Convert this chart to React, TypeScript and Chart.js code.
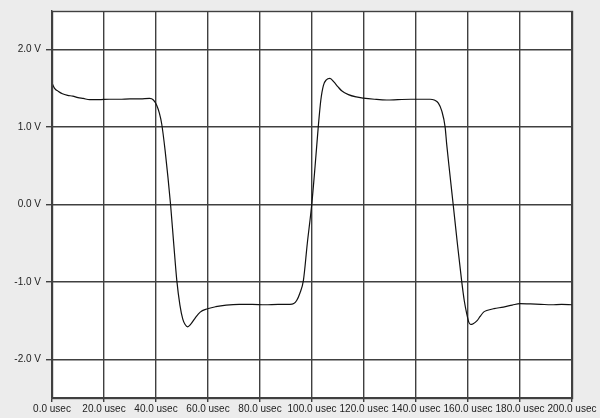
import { useEffect, useRef } from "react";
import { Chart, registerables } from "chart.js";

Chart.register(...registerables);

// time in microseconds, voltage in volts
const timeUs = [
  0, 1, 2.5, 4, 6, 8, 10, 12, 14.5, 18, 22, 26, 30, 34, 37.5, 39, 40.3, 41.3,
  42.2, 43.5, 44.6, 45.6, 46.8, 48, 49.2, 50.3, 51.2, 52.2, 53.3, 55, 57, 59.5,
  63, 67, 72, 77, 82, 87, 91.5, 93, 94.1, 95.3, 96.7, 98.2, 99.9, 101.2, 102.4,
  103.4, 104.4, 105.5, 106.9, 108.5, 110, 111.4, 114, 117, 119.7, 124, 128.7,
  133, 138, 142, 145.4, 147, 148.6, 149.9, 151.2, 151.8, 153, 154.3, 155.9,
  157.6, 158.6, 159.5, 160.3, 161, 162, 163.5, 164.6, 166, 167.2, 170, 173.6,
  177, 180, 184, 188, 192, 196, 200,
];

const volts = [
  1.57, 1.5, 1.46, 1.43, 1.41, 1.4, 1.38, 1.37, 1.355, 1.355, 1.36, 1.36, 1.365,
  1.365, 1.37, 1.35, 1.28, 1.18, 1.04, 0.7, 0.35, 0.0, -0.5, -0.98, -1.3,
  -1.48, -1.55, -1.58, -1.55, -1.47, -1.39, -1.35, -1.32, -1.3, -1.29, -1.29,
  -1.295, -1.29, -1.29, -1.28, -1.24, -1.15, -0.98, -0.5, 0.0, 0.5, 1.0, 1.35,
  1.54, 1.61, 1.63, 1.58, 1.52, 1.47, 1.42, 1.39, 1.375, 1.36, 1.35, 1.355,
  1.36, 1.36, 1.36, 1.35, 1.31, 1.21, 1.0, 0.78, 0.4, 0.0, -0.5, -1.0, -1.25,
  -1.41, -1.52, -1.55, -1.54, -1.5, -1.45, -1.39, -1.37, -1.345, -1.325, -1.3,
  -1.28, -1.285, -1.29, -1.295, -1.29, -1.295,
];

const yTicks = [-2, -1, 0, 1, 2];
const xTicks = [0, 20, 40, 60, 80, 100, 120, 140, 160, 180, 200];

const GRID = "#404040";
const LABEL = "#222222";

export default function App() {
  const canvasRef = useRef<HTMLCanvasElement>(null);

  useEffect(() => {
    if (!canvasRef.current) return;

    const chart = new Chart(canvasRef.current, {
      type: "line",
      data: {
        datasets: [
          {
            data: timeUs.map((t, i) => ({ x: t, y: volts[i] })),
            borderColor: "#111111",
            borderWidth: 1.2,
            pointRadius: 0,
            cubicInterpolationMode: "monotone",
            fill: false,
          },
        ],
      },
      options: {
        animation: false,
        responsive: false,
        devicePixelRatio: 1,
        layout: { padding: { top: 10, right: 28, left: 0, bottom: 0 } },
        plugins: {
          legend: { display: false },
          tooltip: { enabled: false },
        },
        scales: {
          x: {
            type: "linear",
            min: 0,
            max: 200,
            afterBuildTicks: (scale) => {
              scale.ticks = xTicks.map((v) => ({ value: v }));
            },
            afterFit: (scale) => {
              scale.height = 20;
            },
            ticks: {
              color: LABEL,
              font: { family: "Liberation Sans, Arial", size: 10 },
              padding: 1,
              maxRotation: 0,
              autoSkip: false,
              callback: (value) => `${Number(value).toFixed(1)} usec`,
            },
            grid: { color: GRID, lineWidth: 1.4, tickLength: 4 },
            border: { color: GRID, width: 1.4 },
          },
          y: {
            type: "linear",
            min: -2.5,
            max: 2.5,
            afterBuildTicks: (scale) => {
              scale.ticks = yTicks.map((v) => ({ value: v }));
            },
            afterFit: (scale) => {
              scale.width = 52;
            },
            ticks: {
              color: LABEL,
              font: { family: "Liberation Sans, Arial", size: 10 },
              padding: 5,
              callback: (value) => `${Number(value).toFixed(1)} V`,
            },
            grid: { color: GRID, lineWidth: 1.4, tickLength: 6 },
            border: { color: GRID, width: 1.4 },
          },
        },
      },
      plugins: [
        {
          id: "plotBackground",
          beforeDraw: (c) => {
            const { ctx, chartArea } = c;
            ctx.save();
            ctx.fillStyle = "#ececec";
            ctx.fillRect(0, 0, c.width, c.height);
            ctx.fillStyle = "#ffffff";
            ctx.fillRect(
              chartArea.left,
              chartArea.top,
              chartArea.right - chartArea.left,
              chartArea.bottom - chartArea.top
            );
            ctx.restore();
          },
        },
        {
          id: "plotFrame",
          afterDraw: (c) => {
            const { ctx, chartArea } = c;
            ctx.save();
            ctx.strokeStyle = GRID;
            ctx.lineWidth = 1.4;
            ctx.strokeRect(
              Math.round(chartArea.left) + 0.5,
              Math.round(chartArea.top) + 0.5,
              Math.round(chartArea.right - chartArea.left),
              Math.round(chartArea.bottom - chartArea.top)
            );
            ctx.restore();
          },
        },
      ],
    });

    return () => chart.destroy();
  }, []);

  return (
    <div
      style={{
        position: "absolute",
        left: 0,
        top: 0,
        width: 600,
        height: 418,
        background: "#ececec",
      }}
    >
      <canvas ref={canvasRef} width={600} height={418} />
    </div>
  );
}
